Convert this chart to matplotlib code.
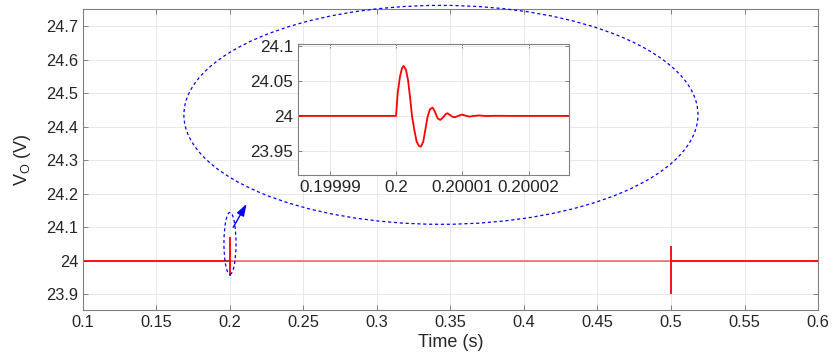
import matplotlib
matplotlib.use("Agg")
import matplotlib.pyplot as plt
from matplotlib.patches import Ellipse
import numpy as np

plt.rcParams['font.family'] = ['Liberation Sans', 'DejaVu Sans']
plt.rcParams['mathtext.fontset'] = 'custom'
plt.rcParams['mathtext.rm'] = 'Liberation Sans'
plt.rcParams['mathtext.it'] = 'Liberation Sans'

# ---- data ----
t_start, t_end = 0.1, 0.6
v_nominal = 24.0
spike_t = [0.2, 0.5]
spike_max = [24.072, 24.045]
spike_min = [23.956, 23.90]

main_xticks = [0.1, 0.15, 0.2, 0.25, 0.3, 0.35, 0.4, 0.45, 0.5, 0.55, 0.6]
main_xlabels = ['0.1', '0.15', '0.2', '0.25', '0.3', '0.35', '0.4', '0.45', '0.5', '0.55', '0.6']
main_yticks = [23.9, 24.0, 24.1, 24.2, 24.3, 24.4, 24.5, 24.6, 24.7]
main_ylabels = ['23.9', '24', '24.1', '24.2', '24.3', '24.4', '24.5', '24.6', '24.7']

# inset transient (time offset from 0.2 s in units of 1e-5 s, voltage deviation in V)
inset_dt = [-2.0, 0.0, 0.0251, 0.0602, 0.0904, 0.1155, 0.1506, 0.1807, 0.2108, 0.2410,
            0.2761, 0.3112, 0.3464, 0.3765, 0.4116, 0.4418, 0.4769, 0.5120, 0.5522,
            0.5873, 0.6275, 0.6677, 0.7129, 0.7530, 0.7781, 0.8133, 0.8534, 0.8886,
            0.9388, 0.9940, 1.0442, 1.1044, 1.1797, 1.2550, 1.3554, 1.5060, 1.7570, 3.0]
inset_dv = [0.0, 0.0, 0.0327, 0.0567, 0.0687, 0.0720, 0.0663, 0.0519, 0.0279, 0.0,
            -0.0202, -0.0370, -0.0432, -0.0442, -0.0370, -0.0202, -0.0010, 0.0096, 0.0120,
            0.0062, -0.0034, -0.0058, -0.0019, 0.0029, 0.0038, 0.0014, -0.0014, -0.0019,
            0.0, 0.0019, 0.0005, -0.0010, 0.0, 0.0007, -0.0002, 0.0002, 0.0, 0.0]
inset_xticks = [0.19999, 0.2, 0.20001, 0.20002]
inset_xlabels = ['0.19999', '0.2', '0.20001', '0.20002']
inset_yticks = [23.95, 24.0, 24.05, 24.1]
inset_ylabels = ['23.95', '24', '24.05', '24.1']

txt = '#262626'
spine = '#808080'
grid_c = '#e8e8e8'
red = '#ff0000'

fig = plt.figure(figsize=(8.33, 3.63), dpi=100)
ax = fig.add_axes([0.0996, 0.146, 0.8824, 0.829])

def style(a, fs):
    for s in a.spines.values():
        s.set_color(spine)
        s.set_linewidth(0.8)
    a.tick_params(direction='in', length=3.5, width=0.7, colors=spine,
                  labelcolor=txt, labelsize=fs, top=True, right=True)
    a.grid(True, color=grid_c, linewidth=0.7)
    a.set_axisbelow(True)

# main curve
ax.plot([t_start, spike_t[0]], [v_nominal, v_nominal], color=red, lw=1.3)
ax.plot([spike_t[0], spike_t[1]], [v_nominal, v_nominal], color=red, lw=1.3, alpha=0.55)
ax.plot([spike_t[1], t_end], [v_nominal, v_nominal], color=red, lw=1.3)
ax.vlines(spike_t, spike_min, spike_max, color=red, lw=1.3)

ax.set_xlim(0.1, 0.6)
ax.set_ylim(23.853, 24.752)
ax.set_xticks(main_xticks)
ax.set_xticklabels(main_xlabels)
ax.set_yticks(main_yticks)
ax.set_yticklabels(main_ylabels)
style(ax, 11.8)
ax.set_xlabel('Time (s)', fontsize=13, color=txt, labelpad=3)
ax.set_ylabel(r'V$_\mathrm{O}$ (V)', fontsize=13, color=txt, labelpad=9)

# ellipses and arrow
big = Ellipse((0.3435, 24.436), 0.3497, 0.654, fill=False, edgecolor='#0000ff',
              linestyle=(0, (2.5, 2.2)), lw=0.9, clip_on=False, zorder=5)
small = Ellipse((0.2000, 24.052), 0.0082, 0.185, fill=False, edgecolor='#0000ff',
                linestyle=(0, (2.5, 2.2)), lw=0.9, clip_on=False, zorder=5)
ax.add_patch(big)
ax.add_patch(small)
ax.annotate('', xy=(0.2113, 24.17), xytext=(0.2022, 24.10),
            arrowprops=dict(arrowstyle='-|>,head_length=0.6,head_width=0.2',
                            color='#0000ff', lw=1.0,
                            mutation_scale=12, shrinkA=0, shrinkB=0), zorder=6)

# inset
ins = fig.add_axes([0.3577, 0.5179, 0.3253, 0.361])
ins.set_facecolor('white')
ins_t = 0.2 + np.array(inset_dt) * 1e-5
ins_v = v_nominal + np.array(inset_dv)
ins.plot(ins_t, ins_v, color=red, lw=1.3)
ins.set_xlim(0.1999852, 0.2000261)
ins.set_ylim(23.915, 24.1035)
ins.set_xticks(inset_xticks)
ins.set_xticklabels(inset_xlabels)
ins.set_yticks(inset_yticks)
ins.set_yticklabels(inset_ylabels)
style(ins, 12.3)
ins.tick_params(length=3)

fig.savefig('out.png', dpi=100)
